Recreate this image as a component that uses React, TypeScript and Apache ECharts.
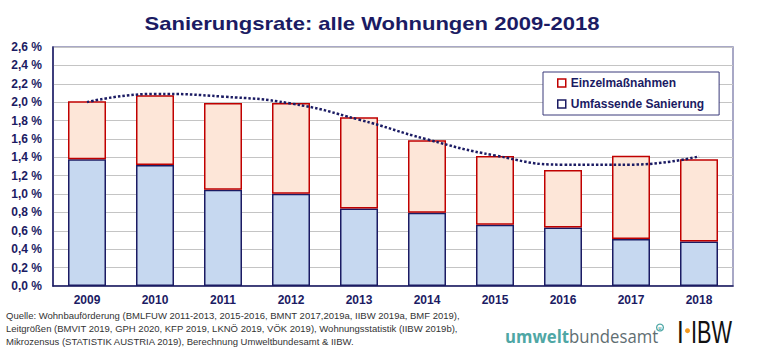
import React, { useEffect, useRef } from "react";
import * as echarts from "echarts";

const years = ["2009", "2010", "2011", "2012", "2013", "2014", "2015", "2016", "2017", "2018"];
const umfassende = [1.38, 1.316, 1.047, 1.003, 0.843, 0.796, 0.665, 0.636, 0.512, 0.484];
const einzel = [0.63, 0.76, 0.943, 0.987, 0.993, 0.789, 0.749, 0.625, 0.905, 0.894];
const trend = [2.0, 2.09, 2.06, 1.985, 1.81, 1.595, 1.42, 1.32, 1.32, 1.41];
const yTicks = { min: 0, max: 2.6, interval: 0.2 };

const titleText = "Sanierungsrate: alle Wohnungen 2009-2018";
const sourceLines = [
  "Quelle: Wohnbauförderung (BMLFUW 2011-2013, 2015-2016, BMNT 2017,2019a, IIBW 2019a, BMF 2019),",
  "Leitgrößen (BMVIT 2019, GPH 2020, KFP 2019, LKNÖ 2019, VÖK 2019), Wohnungsstatistik (IIBW 2019b),",
  "Mikrozensus (STATISTIK AUSTRIA 2019), Berechnung Umweltbundesamt & IIBW.",
];

const NAVY = "#1B1B63";
const FONT = "'Liberation Sans', Arial, sans-serif";

export default function App() {
  const ref = useRef<HTMLDivElement>(null);
  useEffect(() => {
    document.body.style.margin = "0";
    if (!ref.current) return;
    const chart = echarts.init(ref.current, null, { renderer: "svg" });
    chart.setOption({
      animation: false,
      backgroundColor: "#ffffff",
      textStyle: { fontFamily: FONT },
      grid: {
        left: 53,
        right: 41,
        top: 47,
        bottom: 74,
        containLabel: false,
        show: true,
        borderColor: "#8C8CB4",
        borderWidth: 1.5,
      },
      legend: {
        left: 543,
        top: 72,
        orient: "vertical",
        backgroundColor: "#ffffff",
        borderColor: "#3A3A7A",
        borderWidth: 1,
        padding: [4, 15, 4, 14],
        itemGap: 7,
        itemWidth: 8,
        itemHeight: 8,
        icon: "rect",
        textStyle: { color: NAVY, fontWeight: "bold", fontSize: 12, fontFamily: FONT, lineHeight: 14 },
        data: [
          { name: "Einzelmaßnahmen", itemStyle: { color: "#ffffff", borderColor: "#C00000", borderWidth: 1.5 } },
          { name: "Umfassende Sanierung", itemStyle: { color: "#ffffff", borderColor: "#1B1B63", borderWidth: 1.5 } },
        ],
      },
      xAxis: {
        type: "category",
        data: years,
        boundaryGap: true,
        axisLine: { lineStyle: { color: NAVY, width: 1.5 } },
        axisTick: { show: false },
        axisLabel: { color: NAVY, fontWeight: "bold", fontSize: 12, fontFamily: FONT, margin: 8 },
      },
      yAxis: {
        type: "value",
        min: yTicks.min,
        max: yTicks.max,
        interval: yTicks.interval,
        axisLine: { show: true, lineStyle: { color: NAVY, width: 1.5 } },
        axisTick: { show: false },
        splitLine: { lineStyle: { color: "#C4C4C4", width: 1 } },
        axisLabel: {
          color: NAVY,
          fontWeight: "bold",
          fontSize: 12,
          fontFamily: FONT,
          margin: 11,
          formatter: (v: number) => v.toFixed(1).replace(".", ",") + " %",
        },
      },
      series: [
        {
          name: "Umfassende Sanierung",
          type: "bar",
          stack: "total",
          barWidth: 38,
          data: umfassende,
          itemStyle: { color: "#C6D8F0", borderColor: "#1B1B63", borderWidth: 1.5 },
        },
        {
          name: "Einzelmaßnahmen",
          type: "bar",
          stack: "total",
          barWidth: 38,
          data: einzel,
          itemStyle: { color: "#FDE6D8", borderColor: "#C00000", borderWidth: 1.5 },
        },
        {
          name: "Trend",
          type: "line",
          data: trend,
          smooth: 0.5,
          symbol: "none",
          z: 5,
          lineStyle: { color: "#1B1B63", width: 2.5, type: [2.5, 2] },
        },
      ],
      graphic: [
        {
          type: "text",
          x: 372,
          y: 23.4,
          scaleX: 1.16,
          style: {
            text: titleText,
            fill: NAVY,
            font: `bold 19px ${FONT}`,
            textAlign: "center",
            textVerticalAlign: "middle",
          },
        },
        ...sourceLines.map((t, i) => ({
          type: "text",
          x: 6,
          y: 315 + i * 13.4,
          style: {
            text: t,
            fill: "#333333",
            font: `9.5px ${FONT}`,
            textAlign: "left",
            textVerticalAlign: "middle",
          },
        })),
        {
          type: "text",
          x: 505,
          y: 336,
          scaleX: 0.93,
          style: {
            text: "{a|umwelt}{b|bundesamt}",
            textAlign: "left",
            textVerticalAlign: "middle",
            rich: {
              a: { fill: "#4FA7A5", fontFamily: "'Open Sans', sans-serif", fontSize: 18, fontWeight: "bold" },
              b: { fill: "#5F6E72", fontFamily: "'Open Sans', sans-serif", fontSize: 18, fontWeight: "normal" },
            },
          },
        },
        {
          type: "circle",
          shape: { cx: 660, cy: 327.5, r: 3.4 },
          style: { fill: "none", stroke: "#4FA7A5", lineWidth: 1.3 },
        },
        {
          type: "text",
          x: 660,
          y: 327.5,
          style: { text: "u", fill: "#4FA7A5", font: "bold 5px 'Open Sans', sans-serif", textAlign: "center", textVerticalAlign: "middle" },
        },
        {
          type: "text",
          x: 677,
          y: 332,
          scaleX: 0.75,
          style: { text: "I", fill: "#111111", font: `32px ${FONT}`, textAlign: "left", textVerticalAlign: "middle" },
        },
        {
          type: "circle",
          shape: { cx: 687.5, cy: 330.7, r: 2.5 },
          style: { fill: "#F39A1E" },
        },
        {
          type: "text",
          x: 691,
          y: 332,
          scaleX: 0.68,
          style: { text: "IBW", fill: "#111111", font: `32px ${FONT}`, textAlign: "left", textVerticalAlign: "middle" },
        },
      ],
    });
    return () => chart.dispose();
  }, []);
  return <div ref={ref} style={{ width: 774, height: 360 }} />;
}
